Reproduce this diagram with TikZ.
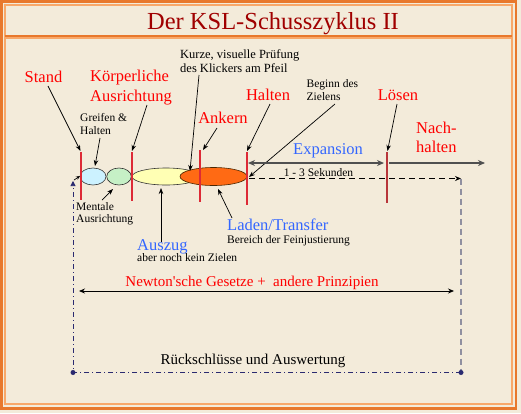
\documentclass[tikz,border=0pt]{standalone}
\usepackage{fontspec}
\setmainfont{Liberation Serif}
\usetikzlibrary{shapes.geometric,arrows.meta}
\definecolor{bg}{HTML}{F3EBDA}
\definecolor{framedark}{HTML}{E8782C}
\definecolor{framelight}{HTML}{F8A86A}
\definecolor{titlered}{HTML}{A00000}
\definecolor{labelred}{HTML}{FF0000}
\definecolor{labelblue}{HTML}{3366FF}
\definecolor{markred}{HTML}{DD2A36}
\definecolor{markdark}{HTML}{B8363A}
\definecolor{greyarrow}{HTML}{505050}
\definecolor{greydash}{HTML}{9090A0}
\definecolor{navy}{HTML}{2A2A70}
\definecolor{ecyan}{HTML}{CCF2FF}
\definecolor{egreen}{HTML}{C6F0C6}
\definecolor{eyellow}{HTML}{FFFFB4}
\definecolor{eorange}{HTML}{FF6A14}
\begin{document}
\begin{tikzpicture}[x=1pt,y=-1pt,
  txt/.style={inner sep=0pt},
  bigred/.style={txt,text=labelred,font=\fontsize{16.5}{20}\selectfont},
  bigblue/.style={txt,text=labelblue,font=\fontsize{16.5}{20}\selectfont},
  small/.style={txt,text=black,font=\fontsize{11.5}{13}\selectfont},
  mid/.style={txt,font=\fontsize{15}{18}\selectfont},
  marker/.style={markred,line width=2pt},
  ptr/.style={black,line width=0.7pt,-{Stealth[length=6pt,width=4.5pt]}},
  phase/.style={ellipse,draw=black!80,line width=0.6pt,inner sep=0pt,minimum height=17pt}
]
\useasboundingbox (0,0) rectangle (521,413);
\fill[bg] (0,0) rectangle (521,413);
% frame
\draw[framedark,line width=2.5pt] (1.5,1.5) rectangle (516,408.5);
\draw[framelight,line width=1.5pt] (5,5) rectangle (512,404);
\draw[framedark,line width=2pt] (5,35.5) -- (512,35.5);
\draw[framelight,line width=1.5pt] (5,38) -- (512,38);
% title
\node[txt,anchor=base,text=titlered,font=\fontsize{24.5}{28}\selectfont] (title) at (273,29) {Der KSL-Schusszyklus II};

% phase ellipses
\node[phase,fill=ecyan,minimum width=26pt] (e1) at (93,176.5) {};
\node[phase,fill=egreen,minimum width=24.5pt] (e2) at (119,176.5) {};
\node[phase,fill=eyellow,minimum width=68pt] (e3) at (166,176.5) {};
\node[phase,fill=eorange,draw=black!70!orange,minimum width=67pt,minimum height=18pt] (e4) at (213.5,176.5) {};

% marker lines
\draw[marker] (81,152) -- (81,200);
\draw[marker] (131.5,152) -- (131.5,201);
\draw[marker] (200,150) -- (200,202);
\draw[marker] (246.5,152) -- (246.5,205);
\draw[markdark,line width=2pt] (386.5,152) -- (386.5,203);
\coordinate (mStand) at (80.5,151);
\coordinate (mKoerp) at (132,151);
\coordinate (mAnker) at (203,150);
\coordinate (mHalten) at (247,151);
\coordinate (mLoesen) at (387.5,151);

% labels
\node[bigred,anchor=base] (stand) at (43.5,82) {Stand};
\node[bigred,anchor=base west] (koerp1) at (90,81) {Körperliche};
\node[bigred,anchor=base west] (koerp2) at (90,101) {Ausrichtung};
\node[small,anchor=base west] (greif1) at (80,121.5) {Greifen \&};
\node[small,anchor=base west] (greif2) at (80,134) {Halten};
\node[small,anchor=base west,font=\fontsize{12.5}{14}\selectfont] (kurz1) at (180,58.5) {Kurze, visuelle Prüfung};
\node[small,anchor=base west,font=\fontsize{12.5}{14}\selectfont] (kurz2) at (180,72.5) {des Klickers am Pfeil};
\node[bigred,anchor=base] (ankern) at (223,123.5) {Ankern};
\node[bigred,anchor=base] (halten) at (268,100) {Halten};
\node[small,anchor=base west] (beginn1) at (306.5,87.5) {Beginn des};
\node[small,anchor=base west] (beginn2) at (306.5,100) {Zielens};
\node[bigred,anchor=base] (loesen) at (398,100) {Lösen};
\node[bigred,anchor=base west] (nach1) at (416,133) {Nach-};
\node[bigred,anchor=base west] (nach2) at (416,152) {halten};
\node[bigblue,anchor=base] (expansion) at (328,154) {Expansion};
\node[small,anchor=base] (sek) at (318.5,176.5) {1 - 3 Sekunden};
\node[small,anchor=base west] (ment1) at (76,210) {Mentale};
\node[small,anchor=base west] (ment2) at (76,222) {Ausrichtung};
\node[bigblue,anchor=base west] (auszug) at (137,250) {Auszug};
\node[small,anchor=base west] (aber) at (137,261) {aber noch kein Zielen};
\node[bigblue,anchor=base west] (laden) at (227,230.5) {Laden/Transfer};
\node[small,anchor=base west] (bereich) at (227,243.5) {Bereich der Feinjustierung};
\node[mid,anchor=base,text=labelred] (newton) at (252,286.5) {Newton\textquotesingle sche Gesetze + \ andere Prinzipien};
\node[mid,anchor=base] (rueck) at (253,364) {Rückschlüsse und Auswertung};

% pointer arrows
\coordinate (tStand) at (48,86);
\coordinate (tGreif) at (100,138);
\coordinate (hGreif) at (95,166);
\coordinate (tKoerp) at (147,105);
\coordinate (tKurz) at (199,75);
\coordinate (hKurz) at (190,171);
\coordinate (tAnker) at (217,128);
\coordinate (tHalten) at (270,104);
\coordinate (tBeginn) at (335,104);
\coordinate (hBeginn) at (249,177);
\coordinate (tLoesen) at (397,104);
\coordinate (tMent) at (102,200);
\coordinate (hMent) at (113,189);
\coordinate (tAuszug) at (161,242);
\coordinate (hAuszug) at (161,188);
\coordinate (tLaden) at (232,218);
\coordinate (hLaden) at (218,189);
\draw[ptr] (tStand) -- (mStand);
\draw[ptr] (tGreif) -- (hGreif);
\draw[ptr] (tKoerp) -- (mKoerp);
\draw[ptr] (tKurz) -- (hKurz);
\draw[ptr] (tAnker) -- (mAnker);
\draw[ptr] (tHalten) -- (mHalten);
\draw[ptr] (tBeginn) -- (hBeginn);
\draw[ptr] (tLoesen) -- (mLoesen);
\draw[ptr] (tMent) -- (hMent);
\draw[ptr] (tAuszug) -- (hAuszug);
\draw[ptr] (tLaden) -- (hLaden);

% expansion and after-hold arrows
\coordinate (xa) at (248,163);
\coordinate (xb) at (384,163);
\coordinate (xc) at (389,163);
\coordinate (xd) at (485,163);
\draw[greyarrow,line width=2pt,{Stealth[length=7pt,width=6pt]}-{Stealth[length=7pt,width=6pt]}] (xa) -- (xb);
\draw[greyarrow,line width=2pt,-{Stealth[length=7pt,width=6pt]}] (xc) -- (xd);

% dashed time arrow and feedback loop
\coordinate (da) at (249,178.5);
\coordinate (db) at (461,178.5);
\coordinate (dc) at (461,372.5);
\coordinate (dd) at (73,372.5);
\coordinate (de) at (73,181);
\draw[black,line width=1.6pt,dash pattern=on 6pt off 4pt,-{Stealth[length=6pt,width=5pt]}] (da) -- (db);
\draw[greydash,line width=1.6pt,dash pattern=on 6pt off 4pt] (db) -- (dc);
\draw[navy,line width=0.6pt,dash pattern=on 5pt off 3pt on 1pt off 3pt,-{Triangle[length=5pt,width=5pt]}] (dc) -- (dd) -- (de);
\fill[navy] (dc) circle (2.5pt);
\fill[navy] (dd) circle (2.5pt);
\coordinate (sa) at (74,180);
\coordinate (sb) at (80,176);
\draw[black,line width=0.7pt,-{Stealth[length=4pt,width=3.5pt]}] (sa) -- (sb);

% Newton arrow
\coordinate (na) at (79,291);
\coordinate (nb) at (454,291);
\draw[black,line width=0.8pt,{Stealth[length=6pt,width=5pt]}-{Stealth[length=6pt,width=5pt]}] (na) -- (nb);
\end{tikzpicture}
\end{document}
